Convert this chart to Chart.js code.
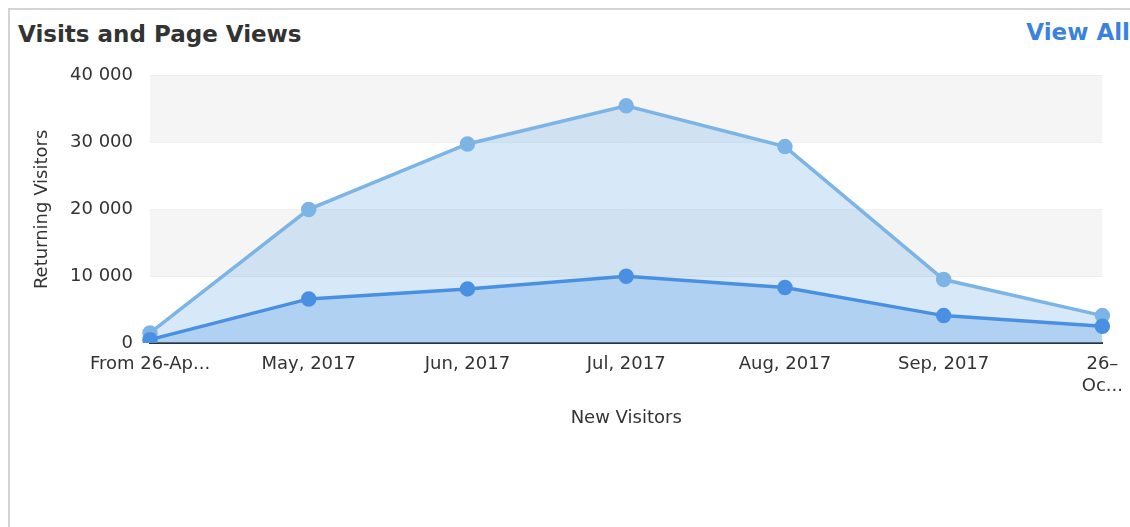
<!DOCTYPE html>
<html>
<head>
<meta charset="utf-8">
<script src="https://cdn.jsdelivr.net/npm/chart.js@4/dist/chart.umd.min.js"></script>
<style>
  body { margin: 0; background: #fff; font-family: "DejaVu Sans", sans-serif; overflow: hidden; }
  .card { position: absolute; left: 8px; top: 8px; width: 1130px; height: 530px;
          border-top: 2px solid #d4d4d4; border-left: 2px solid #d4d4d4; }
  .title { position: absolute; left: 18px; top: 21px; font-size: 23px; font-weight: bold; color: #333; }
  .viewall { position: absolute; right: 0px; top: 19px; font-size: 23px; font-weight: bold; color: #3b82dc; }
  .wrap { position: absolute; left: 0; top: 48px; width: 1134px; height: 407px; }
</style>
</head>
<body>
<div class="card"></div>
<div class="title">Visits and Page Views</div>
<div class="viewall">View All</div>
<div class="wrap"><canvas id="meuGrafico"></canvas></div>
<script>
// categorias do eixo x
var meses = ["From 26-Ap...", "May, 2017", "Jun, 2017", "Jul, 2017", "Aug, 2017", "Sep, 2017", ["26\u2013", "Oc..."]];
// valores
var pageViews = [1500, 20000, 29800, 35500, 29400, 9500, 4100];
var visitas = [500, 6600, 8100, 10000, 8300, 4100, 2500];
var yTicks = [0, 10000, 20000, 30000, 40000];

// faixas cinzentas alternadas no fundo
var faixas = {
    id: "faixas",
    beforeDatasetsDraw: function (chart) {
        var ctx = chart.ctx, area = chart.chartArea, y = chart.scales.y;
        ctx.save();
        ctx.fillStyle = "#f5f5f5";
        for (var i = 1; i < yTicks.length - 1; i += 2) {
            var top = y.getPixelForValue(yTicks[i + 1]);
            var bot = y.getPixelForValue(yTicks[i]);
            ctx.fillRect(area.left, top, area.right - area.left, bot - top);
        }
        ctx.restore();
    }
};

var fonte = { family: "DejaVu Sans", size: 18 };

new Chart(document.getElementById("meuGrafico").getContext("2d"), {
    type: "line",
    data: {
        labels: meses,
        datasets: [{
            label: "Page Views",
            data: pageViews,
            borderColor: "#7db4e6",
            backgroundColor: "rgba(124,181,236,0.3)",
            pointBackgroundColor: "#7db4e6",
            pointBorderColor: "#7db4e6",
            borderWidth: 3.5,
            pointRadius: 6,
            fill: "origin",
            tension: 0,
            order: 1
        }, {
            label: "Visits",
            data: visitas,
            borderColor: "#4a90e2",
            backgroundColor: "rgba(74,144,226,0.27)",
            pointBackgroundColor: "#4a90e2",
            pointBorderColor: "#4a90e2",
            borderWidth: 3.5,
            pointRadius: 6,
            fill: "origin",
            tension: 0,
            order: 0
        }]
    },
    options: {
        responsive: true,
        maintainAspectRatio: false,
        animation: false,
        layout: { padding: { top: 13, right: 24, left: 0, bottom: 0 } },
        plugins: { legend: { display: false }, tooltip: { enabled: false } },
        scales: {
            x: {
                offset: false,
                grid: { display: false, drawTicks: false },
                border: { display: true, color: "#333", width: 2 },
                ticks: { color: "#333", font: fonte, maxRotation: 0, autoSkip: false, padding: 11 },
                title: { display: true, text: "New Visitors", color: "#333", font: fonte, padding: { top: 0, bottom: 26 } },
                afterFit: function (scale) { scale.height = 112; }
            },
            y: {
                min: 0,
                max: 40000,
                grid: { color: "#e9e9e9", drawTicks: false },
                border: { display: false },
                afterBuildTicks: function (scale) {
                    scale.ticks = yTicks.map(function (v) { return { value: v }; });
                },
                ticks: {
                    color: "#333",
                    font: fonte,
                    padding: 17,
                    callback: function (v) { return v === 0 ? "0" : String(v).replace(/\B(?=(\d{3})+(?!\d))/g, " "); }
                },
                title: { display: true, text: "Returning Visitors", color: "#333", font: fonte, padding: { top: 32 } },
                afterFit: function (scale) { scale.width = 150; }
            }
        }
    },
    plugins: [faixas]
});
</script>
</body>
</html>
